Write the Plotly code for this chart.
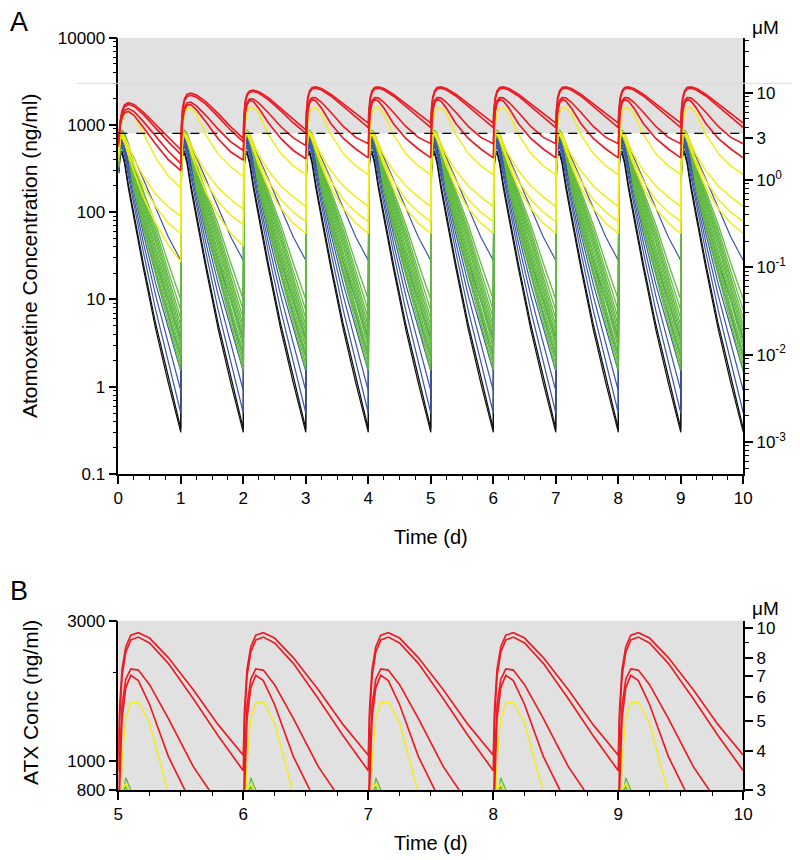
import plotly.graph_objects as go

# ---------------- data (ng/ml) ----------------
DAYS = list(range(10))
TAU = [0, 0.01, 0.03, 0.06, 0.1, 0.16, 0.25, 0.4, 0.6, 0.8, 1.0]   # time within a dosing day

RED_DAY0 = [
    [650, 800, 1100, 1450, 1700, 1800, 1720, 1400, 1000, 720, 520],
    [630, 780, 1060, 1400, 1620, 1720, 1640, 1320, 920, 640, 460],
    [600, 740, 1000, 1300, 1470, 1540, 1430, 1100, 740, 500, 360],
    [560, 700, 950, 1230, 1380, 1430, 1290, 940, 600, 400, 300],
]
RED_DAY1 = [
    [520, 1000, 1600, 2000, 2250, 2310, 2200, 1850, 1350, 950, 700],
    [460, 930, 1500, 1900, 2120, 2200, 2080, 1730, 1240, 870, 640],
    [360, 750, 1250, 1600, 1790, 1830, 1650, 1290, 890, 640, 510],
    [300, 650, 1150, 1500, 1690, 1710, 1490, 1090, 690, 490, 395],
]
RED_DAY2 = [
    [700, 1250, 1850, 2250, 2450, 2510, 2400, 2050, 1550, 1150, 880],
    [640, 1180, 1780, 2170, 2370, 2430, 2310, 1950, 1450, 1060, 800],
    [510, 900, 1450, 1800, 1980, 1980, 1780, 1380, 960, 710, 580],
    [395, 760, 1330, 1700, 1900, 1860, 1540, 1060, 700, 510, 410],
]
RED_STEADY = [
    [1050, 1500, 2050, 2450, 2680, 2730, 2620, 2250, 1750, 1330, 1050],
    [940, 1400, 1950, 2350, 2580, 2640, 2520, 2150, 1630, 1220, 930],
    [610, 1000, 1550, 1900, 2060, 2040, 1820, 1400, 960, 720, 610],
    [420, 800, 1400, 1780, 1960, 1880, 1560, 1040, 700, 530, 420],
]

YELLOW_DAY0 = [
    [550, 650, 850, 1100, 1330, 1420, 1300, 800, 420, 260, 190],
    [450, 600, 780, 800, 720, 580, 410, 260, 160, 115, 90],
    [420, 570, 750, 770, 680, 520, 350, 200, 115, 75, 57],
    [380, 520, 700, 720, 620, 460, 290, 150, 75, 42, 27],
]
YELLOW_DAY1 = [
    [190, 450, 950, 1350, 1540, 1560, 1330, 770, 460, 330, 255],
    [90, 380, 790, 820, 745, 605, 440, 290, 190, 140, 108],
    [57, 330, 770, 790, 705, 545, 370, 220, 132, 92, 72],
    [27, 290, 740, 760, 665, 495, 315, 170, 92, 57, 41],
]
YELLOW_STEADY = [
    [270, 500, 1000, 1400, 1580, 1590, 1350, 780, 470, 340, 270],
    [116, 400, 800, 840, 770, 620, 450, 300, 200, 150, 116],
    [78, 350, 780, 800, 720, 560, 380, 230, 140, 100, 78],
    [57, 320, 760, 780, 690, 520, 340, 190, 110, 75, 57],
]

GREEN_STEADY = [
    [10, 380, 740, 880, 800, 620, 350, 175, 72, 26, 10],
    [7.5, 375, 715, 840, 770, 600, 330, 160, 63, 21, 7.5],
    [6.0, 370, 710, 835, 760, 585, 315, 150, 56, 18, 6.0],
    [5.0, 365, 705, 830, 750, 570, 300, 140, 50, 16, 5.0],
    [4.3, 360, 700, 825, 740, 555, 285, 130, 45, 14, 4.3],
    [3.7, 355, 695, 820, 730, 540, 270, 120, 40, 12.5, 3.7],
    [3.2, 350, 690, 815, 720, 525, 255, 110, 36, 11, 3.2],
    [2.8, 345, 685, 810, 710, 510, 240, 100, 32, 9.7, 2.8],
    [2.4, 340, 680, 805, 700, 495, 225, 90, 28, 8.4, 2.4],
    [2.1, 335, 675, 800, 690, 480, 210, 82, 25, 7.3, 2.1],
    [1.8, 330, 670, 795, 680, 465, 195, 74, 22, 6.3, 1.8],
    [1.55, 325, 665, 790, 670, 450, 180, 66, 19, 5.5, 1.55],
]
BLUE_STEADY = [
    [0.5, 300, 500, 560, 450, 260, 120, 35, 7.5, 2.0, 0.5],
    [0.9, 310, 530, 600, 490, 290, 140, 45, 11, 3.2, 0.9],
    [1.5, 320, 560, 640, 530, 330, 165, 57, 15, 4.8, 1.5],
    [2.2, 330, 590, 680, 570, 360, 185, 68, 20, 6.6, 2.2],
    [3.5, 340, 610, 710, 600, 390, 210, 85, 27, 9.8, 3.5],
    [28, 350, 640, 740, 680, 560, 420, 240, 110, 52, 28],
]
BLACK_STEADY = [
    [0.3, 280, 450, 470, 360, 190, 85, 23, 4.5, 1.1, 0.3],
    [0.33, 300, 480, 500, 390, 210, 95, 26, 5.2, 1.3, 0.33],
]

# axis ticks
UM_TICKS_A = [0.001, 0.01, 0.1, 1, 3, 10]
UM_TEXT_A = ["10<sup>-3</sup>", "10<sup>-2</sup>", "10<sup>-1</sup>", "10<sup>0</sup>", "3", "10"]
UM_TICKS_B = [3, 4, 5, 6, 7, 8, 10]
UM_TEXT_B = ["3", "4", "5", "6", "7", "8", "10"]
NG_TICKS_A = [0.1, 1, 10, 100, 1000, 10000]
NG_TEXT_A = ["0.1", "1", "10", "100", "1000", "10000"]
NG_TICKS_B = [800, 1000, 3000]
NG_TEXT_B = ["800", "1000", "3000"]

RED = "#ec1c24"
YELLOW = "#f2ec1a"
GREEN = "#62ba42"
BLUE = "#3b56a6"
BLACK = "#111111"
FONT = "Arial, Liberation Sans, sans-serif"


def build(profiles_by_day, skip_first_day0):
    xs, ys = [], []
    for d in DAYS:
        prof = profiles_by_day(d)
        start = 1 if (d == 0 and skip_first_day0) else 0
        for t, v in zip(TAU[start:], prof[start:]):
            xs.append(d + t)
            ys.append(v)
    return xs, ys


curves = []  # (x, y, color, width)
for i in range(len(BLACK_STEADY)):
    x, y = build(lambda d, i=i: BLACK_STEADY[i], True)
    curves.append((x, y, BLACK, 1.2))
for i in range(len(BLUE_STEADY)):
    x, y = build(lambda d, i=i: BLUE_STEADY[i], True)
    curves.append((x, y, BLUE, 1.2))
for i in range(len(GREEN_STEADY)):
    x, y = build(lambda d, i=i: GREEN_STEADY[i], True)
    curves.append((x, y, GREEN, 1.3))
for i in range(len(YELLOW_STEADY)):
    def yp(d, i=i):
        if d == 0:
            return YELLOW_DAY0[i]
        if d == 1:
            return YELLOW_DAY1[i]
        return YELLOW_STEADY[i]
    x, y = build(yp, False)
    curves.append((x, y, YELLOW, 1.5))
for i in range(len(RED_STEADY)):
    def rp(d, i=i):
        if d == 0:
            return RED_DAY0[i]
        if d == 1:
            return RED_DAY1[i]
        if d == 2:
            return RED_DAY2[i]
        return RED_STEADY[i]
    x, y = build(rp, False)
    curves.append((x, y, RED, 1.7))

fig = go.Figure()
for x, y, c, w in curves:
    fig.add_trace(go.Scatter(x=x, y=y, mode="lines", line=dict(color=c, width=w),
                             xaxis="x", yaxis="y", hoverinfo="skip", showlegend=False))
for x, y, c, w in curves:
    fig.add_trace(go.Scatter(x=x, y=y, mode="lines", line=dict(color=c, width=w),
                             xaxis="x2", yaxis="y3", hoverinfo="skip", showlegend=False))
# empty traces so that the micromolar axes are registered and drawn
fig.add_trace(go.Scatter(x=[None], y=[None], mode="lines", xaxis="x", yaxis="y2",
                         hoverinfo="skip", showlegend=False))
fig.add_trace(go.Scatter(x=[None], y=[None], mode="lines", xaxis="x2", yaxis="y4",
                         hoverinfo="skip", showlegend=False))


def minor_log(lo, hi, exclude=()):
    vals = []
    for e in range(lo, hi + 1):
        for k in range(2, 10):
            v = k * 10 ** e
            if not any(abs(v - ex) < 1e-12 for ex in exclude):
                vals.append(v)
    return vals


# the page body adds an 8 px margin, so the figure is 792x852 and coordinates
# below are given in window pixels and shifted by OFF
OFF = 8
W, H = 800 - OFF, 860 - OFF


def px(x):
    return (x - OFF) / W


def py(y):
    return 1 - (y - OFF) / H


X_LEFT, X_RIGHT = 118.3, 743.3
A_TOP, A_BOT = 37.7, 474.0
B_TOP, B_BOT = 620.7, 790.0

axis_common = dict(showline=True, linecolor="black", linewidth=1.5, ticks="outside",
                   ticklen=8, tickwidth=1.5, tickcolor="black", showgrid=False,
                   zeroline=False, automargin=False,
                   tickfont=dict(family=FONT, size=17, color="black"))
minor_common = dict(ticks="outside", ticklen=4, tickwidth=1.2, tickcolor="black", showgrid=False)

fig.update_layout(
    template="none",
    width=W, height=H, margin=dict(l=0, r=0, t=0, b=0, pad=0, autoexpand=False),
    paper_bgcolor="white", plot_bgcolor="white", showlegend=False,
    xaxis=dict(domain=[px(X_LEFT), px(X_RIGHT)], range=[0, 10], anchor="y", tickmode="array",
               tickvals=list(range(11)), minor=dict(dtick=0.25, tick0=0, **minor_common),
               **axis_common),
    yaxis=dict(domain=[py(A_BOT), py(A_TOP)], type="log", range=[-1, 4], anchor="x",
               tickmode="array", tickvals=NG_TICKS_A, ticktext=NG_TEXT_A,
               minor=dict(tickmode="array", tickvals=minor_log(-1, 3), **minor_common),
               **axis_common),
    yaxis2=dict(overlaying="y", side="right", type="log", range=[-3.368, 1.630], anchor="x",
                tickmode="array", tickvals=UM_TICKS_A, ticktext=UM_TEXT_A,
                minor=dict(tickmode="array", tickvals=minor_log(-4, 1, exclude=(3,)), **minor_common),
                **axis_common),
    xaxis2=dict(domain=[px(X_LEFT), px(X_RIGHT)], range=[5, 10], anchor="y3", tickmode="array",
                tickvals=list(range(5, 11)), minor=dict(dtick=0.25, tick0=0, **minor_common),
                **axis_common),
    yaxis3=dict(domain=[py(B_BOT), py(B_TOP)], type="log",
                range=[2.90309, 3.47712], anchor="x2",
                tickmode="array", tickvals=NG_TICKS_B, ticktext=NG_TEXT_B,
                minor=dict(tickmode="array", tickvals=[900, 2000], **minor_common),
                **axis_common),
    yaxis4=dict(overlaying="y3", side="right", type="log", range=[0.4765, 1.025], anchor="x2",
                tickmode="array", tickvals=UM_TICKS_B, ticktext=UM_TEXT_B,
                minor=dict(tickmode="array", tickvals=[9], **minor_common),
                **axis_common),
)

shapes = [
    # grey toxic region in A (above 800 ng/ml)
    dict(type="rect", xref="x", yref="y", x0=0, x1=10, y0=800, y1=10000,
         fillcolor="#e1e1e1", line=dict(width=0), layer="below"),
    # grey background in B
    dict(type="rect", xref="x2 domain", yref="y3 domain", x0=0, x1=1, y0=0, y1=1,
         fillcolor="#e1e1e1", line=dict(width=0), layer="below"),
    # dashed 3 uM line
    dict(type="line", xref="x", yref="y", x0=0, x1=10, y0=800, y1=800,
         line=dict(color="black", width=1.2, dash="dash"), layer="above"),
    # faint horizontal rule
    dict(type="line", xref="paper", yref="y", x0=px(77), x1=1, y0=3000, y1=3000,
         line=dict(color="#d9d9d9", width=1), layer="above"),
]
fig.update_layout(shapes=shapes)


def ann(text, x, y, size, angle=0, xanchor="center"):
    return dict(text=text, x=px(x), y=py(y), xref="paper", yref="paper",
                showarrow=False, textangle=angle, xanchor=xanchor, yanchor="middle",
                font=dict(family=FONT, size=size, color="black"))


fig.update_layout(annotations=[
    ann("A", 8, 22, 27, xanchor="left"),
    ann("B", 8, 591, 27, xanchor="left"),
    ann("Atomoxetine Concentration (ng/ml)", 30, 256, 21, -90),
    ann("Time (d)", 431, 537, 20),
    ann("ATX Conc (ng/ml)", 30, 703, 21, -90),
    ann("Time (d)", 431, 843, 20),
    ann("\u03bcM", 765, 27, 19),
    ann("\u03bcM", 765, 608, 19),
])

fig.write_html("out.html")
